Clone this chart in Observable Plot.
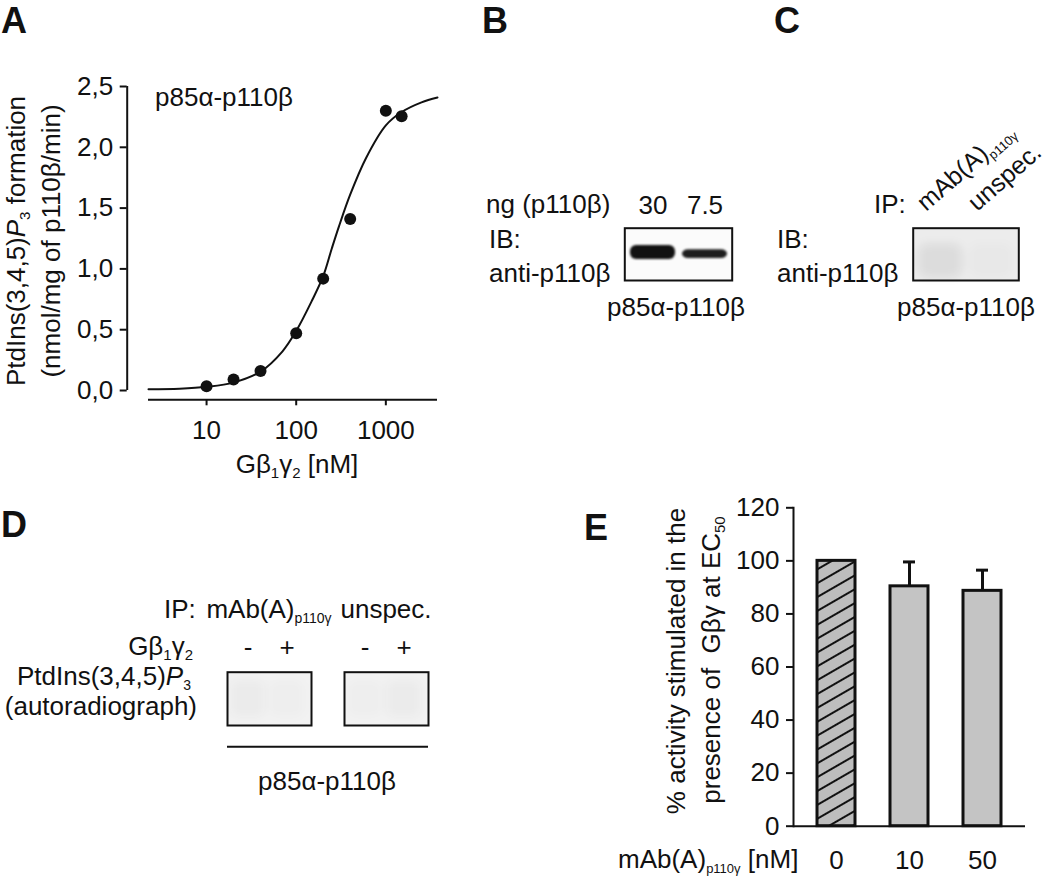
<!DOCTYPE html>
<html><head><meta charset="utf-8">
<script src="https://cdn.jsdelivr.net/npm/d3@7"></script>
<script src="https://cdn.jsdelivr.net/npm/@observablehq/plot@0.6"></script>
<style>
html,body{margin:0;padding:0;background:#fff;}
#fig{position:relative;width:1050px;height:876px;overflow:hidden;background:#fff;}
</style></head><body><div id="fig"></div>
<script>
// ---------- Panel A: dose-response ----------
const gbgConc  = [10, 20, 40, 100, 200, 400, 1000, 1500];          // nM
const pip3Rate = [0.035, 0.09, 0.16, 0.47, 0.92, 1.41, 2.30, 2.255]; // nmol/mg/min
const fitConc  = [2.25, 5, 10, 20, 40, 70, 100, 150, 200, 250, 300, 400, 600, 1000, 1500, 2500, 3770];
const fitRate  = [0.01, 0.015, 0.03, 0.065, 0.155, 0.32, 0.49, 0.74, 0.94, 1.17, 1.35, 1.61, 1.91, 2.18, 2.29, 2.37, 2.41];
const aYTicks = [0, 0.5, 1.0, 1.5, 2.0, 2.5];
const aXTicks = [10, 100, 1000];
const aXDomain = [2.25, 3770];
// ---------- Panel B: immunoblot ----------
const bLanes = ["30", "7.5"];           // ng p110beta
const bBandTop = [33, 41];              // % of blot height from top
const bBandBottom = [60, 58];
const bIntensity = [1, 0.95];
// ---------- Panel C: IP immunoblot ----------
const cLanes = ["mAb(A)_{p110γ}", "unspec."];
const cSmudgeTop = [30, 30];
const cSmudgeBottom = [95, 95];
const cIntensity = [0.07, 0.015];
// ---------- Panel D: autoradiograph ----------
const dIP = ["mAb(A)_{p110γ}", "unspec."];
const dGbg = ["-", "+"];
const dIntensity = [[0.03, 0.015], [0.015, 0.03]];
// ---------- Panel E: bar chart ----------
const eDose = ["0", "10", "50"];
const eActivity = [100, 90.4, 88.7];
const eError = [0, 9.2, 7.8];
const eTicks = [0, 20, 40, 60, 80, 100, 120];

const ink = "#111";
const FONT = '"Liberation Sans", Arial, Helvetica, sans-serif';
const FS = 26;
const fig = document.getElementById("fig");

function place(el, left, top) {
  el.style.position = "absolute";
  el.style.left = left + "px";
  el.style.top = top + "px";
  el.style.background = "transparent";
  el.style.overflow = "visible";
  el.style.fontFamily = FONT;
  el.style.fontSize = FS + "px";
  el.style.color = ink;
  el.style.maxWidth = "none";
  fig.appendChild(el);
  return el;
}

// ----- Panel A -----
const aPoints = gbgConc.map((c, i) => ({c, r: pip3Rate[i]}));
const aFit = fitConc.map((c, i) => ({c, r: fitRate[i]}));
const aPlot = Plot.plot({
  width: 460, height: 480,
  marginLeft: 148, marginRight: 23, marginTop: 86, marginBottom: 90,
  x: {type: "log", domain: aXDomain},
  y: {domain: [0, 2.5]},
  marks: [
    Plot.ruleX([aXDomain[0]], {dx: -21.3, stroke: ink, strokeWidth: 2}),
    Plot.axisY(aYTicks, {dx: -21.3, tickSize: 7, tickPadding: 7, strokeWidth: 2, fontSize: FS,
      tickFormat: d => d.toFixed(1).replace(".", ","), label: null}),
    Plot.ruleY([0], {dy: 9.3, stroke: ink, strokeWidth: 2}),
    Plot.axisX(aXTicks, {dy: 9.3, tickSize: 6, tickPadding: 15, strokeWidth: 2, fontSize: FS,
      tickFormat: d3.format("d"), label: null}),
    Plot.line(aFit, {x: "c", y: "r", curve: "catmull-rom", stroke: ink, strokeWidth: 2}),
    Plot.dot(aPoints, {x: "c", y: "r", r: 6, fill: ink, stroke: null})
  ]
});
place(aPlot, 0, 0);

// ----- Panel B -----
const bData = bLanes.map((lane, i) => ({lane, top: bBandTop[i], bottom: bBandBottom[i], intensity: bIntensity[i]}));
const bPlot = Plot.plot({
  width: 150, height: 110,
  marginLeft: 24.3, marginRight: 18.3, marginTop: 47.7, marginBottom: 10,
  x: {domain: bLanes, paddingInner: 0.135, paddingOuter: 0.1},
  y: {domain: [0, 100], reverse: true, axis: null},
  opacity: {type: "identity"},
  marks: [
    Plot.frame({fill: "#fbfbfb", stroke: "none"}),
    Plot.barY(bData, {x: "lane", y1: "top", y2: "bottom", fill: ink, fillOpacity: "intensity", rx: 6, imageFilter: "blur(1.3px)"}),
    Plot.frame({fill: "none", stroke: ink, strokeWidth: 2}),
    Plot.axisX({anchor: "top", tickSize: 0, tickPadding: 14.7, fontSize: FS, label: null})
  ]
});
place(bPlot, 600, 180);

// ----- Panel C -----
const cData = cLanes.map((lane, i) => ({lane, top: cSmudgeTop[i], bottom: cSmudgeBottom[i], intensity: cIntensity[i]}));
const cPlot = Plot.plot({
  width: 170, height: 110,
  marginLeft: 32.7, marginRight: 31.7, marginTop: 47.7, marginBottom: 10,
  x: {domain: cLanes, paddingInner: 0.135, paddingOuter: 0.1, axis: null},
  y: {domain: [0, 100], reverse: true, axis: null},
  opacity: {type: "identity"},
  marks: [
    Plot.frame({fill: "#ececec", stroke: "none"}),
    Plot.barY(cData, {x: "lane", y1: "top", y2: "bottom", fill: ink, fillOpacity: "intensity", rx: 10, imageFilter: "blur(4px)"}),
    Plot.frame({fill: "none", stroke: ink, strokeWidth: 2})
  ]
});
place(cPlot, 880, 180);

// ----- Panel D -----
const dData = [];
dIP.forEach((ip, i) => dGbg.forEach((g, j) => dData.push({ip, gbg: g, intensity: dIntensity[i][j]})));
const dPlot = Plot.plot({
  width: 250, height: 150,
  marginLeft: 26, marginRight: 21.4, marginTop: 71.7, marginBottom: 25,
  fx: {domain: dIP, paddingInner: 0.282, paddingOuter: 0, axis: null, label: null},
  x: {domain: dGbg, paddingInner: 0.1, paddingOuter: 0.11, align: 0.3},
  y: {domain: [0, 100], reverse: true, axis: null},
  opacity: {type: "identity"},
  marks: [
    Plot.frame({fill: "#f2f2f2", stroke: "none"}),
    Plot.barY(dData, {fx: "ip", x: "gbg", y1: 15, y2: 85, fill: ink, fillOpacity: "intensity", rx: 8, imageFilter: "blur(5px)"}),
    Plot.frame({fill: "none", stroke: ink, strokeWidth: 2}),
    Plot.axisX({anchor: "top", tickSize: 0, tickPadding: 16.7, fontSize: FS, label: null})
  ]
});
place(dPlot, 200, 600);

// ----- Panel E -----
const eData = eDose.map((dose, i) => ({dose, act: eActivity[i], err: eError[i], top: eActivity[i] + eError[i]}));
const eErr = eData.filter(d => d.err > 0);
const ePlot = Plot.plot({
  width: 450, height: 396,
  marginLeft: 193, marginRight: 25, marginTop: 27.3, marginBottom: 50.3,
  x: {domain: eDose, paddingInner: 0.48, paddingOuter: 0.325},
  y: {domain: [0, 120]},
  marks: [
    Plot.frame({anchor: "left", stroke: ink, strokeWidth: 2}),
    Plot.ruleY([0], {stroke: ink, strokeWidth: 2}),
    Plot.axisY(eTicks, {tickSize: 7, tickPadding: 7, strokeWidth: 2, fontSize: FS, label: null}),
    Plot.axisX({tickSize: 0, tickPadding: 24, fontSize: FS, label: null}),
    Plot.ruleX(eErr, {x: "dose", y1: "act", y2: "top", stroke: ink, strokeWidth: 3}),
    Plot.tickY(eErr, {x: "dose", y: "top", insetLeft: 13, insetRight: 13, stroke: ink, strokeWidth: 3}),
    Plot.barY(eData, {filter: d => d.err > 0, x: "dose", y: "act", fill: "#c4c4c4", stroke: ink, strokeWidth: 3}),
    Plot.barY(eData, {filter: d => d.err === 0, x: "dose", y: "act", fill: "url(#hatch)", stroke: ink, strokeWidth: 3})
  ]
});
d3.select(ePlot).insert("defs", ":first-child").html(
  `<pattern id="hatch" patternUnits="userSpaceOnUse" width="12" height="12" patternTransform="rotate(-30)">
     <rect width="12" height="12" fill="#bdbdbd"/>
     <line x1="0" y1="6" x2="12" y2="6" stroke="${ink}" stroke-width="2"/>
   </pattern>`);
place(ePlot, 600, 480);

// ---------- Overlay text ----------
const ov = d3.create("svg").attr("width", 1050).attr("height", 876)
  .style("font-family", FONT).style("pointer-events", "none");
place(ov.node(), 0, 0);

function rich(markup, {x = 0, y = 0, size = FS, anchor = "start", weight = null, rotate = 0, subSize = null} = {}) {
  const t = ov.append("text")
    .attr("font-size", size).attr("text-anchor", anchor).attr("fill", ink)
    .style("white-space", "pre")
    .attr("transform", `translate(${x},${y})` + (rotate ? ` rotate(${rotate})` : ""));
  if (weight) t.attr("font-weight", weight);
  const tokens = markup.split(/(_\{[^}]*\}|\*[^*]*\*)/).filter(s => s.length);
  const sub = subSize || Math.round(size * 0.58);
  const shift = size * 0.2;
  let cur = 0;
  for (const tok of tokens) {
    let text = tok, isSub = false, isIt = false;
    if (tok.startsWith("_{")) { text = tok.slice(2, -1); isSub = true; }
    else if (tok.length > 1 && tok.startsWith("*") && tok.endsWith("*")) { text = tok.slice(1, -1); isIt = true; }
    const ts = t.append("tspan").text(text);
    const target = isSub ? shift : 0;
    if (target !== cur) { ts.attr("dy", target - cur); cur = target; }
    if (isSub) ts.attr("font-size", sub);
    if (isIt) ts.attr("font-style", "italic");
  }
  return t;
}

// panel letters
const L = {size: 36, weight: "bold"};
rich("A", {x: 1, y: 33, ...L});
rich("B", {x: 482, y: 33, ...L});
rich("C", {x: 774, y: 33, ...L});
rich("D", {x: 1, y: 537, ...L});
rich("E", {x: 584, y: 540, ...L});

// Panel A texts
rich("p85α-p110β", {x: 155, y: 106});
rich("PtdIns(3,4,5)*P*_{3} formation", {x: 25, y: 241, anchor: "middle", rotate: -90, subSize: 15});
rich("(nmol/mg of p110β/min)", {x: 60, y: 241, anchor: "middle", rotate: -90});
rich("Gβ_{1}γ_{2} [nM]", {x: 297, y: 473, anchor: "middle", subSize: 15});

// Panel B texts
rich("ng (p110β)", {x: 486, y: 213});
rich("IB:", {x: 489, y: 248});
rich("anti-p110β", {x: 489, y: 282});
rich("p85α-p110β", {x: 607, y: 316});

// Panel C texts
rich("IP:", {x: 874, y: 213});
rich("IB:", {x: 777, y: 248});
rich("anti-p110β", {x: 777, y: 282});
rich("p85α-p110β", {x: 897, y: 316});
{
  const sx = cPlot.scale("x");
  cLanes.forEach(l => {
    const cx = 880 + sx.apply(l) + sx.bandwidth / 2;
    rich(l, {x: cx - 14, y: 212, rotate: -41, size: 25, subSize: 13});
  });
}

// Panel D texts
rich("IP:", {x: 164, y: 618});
{
  const sfx = dPlot.scale("fx");
  dIP.forEach(l => {
    const cx = 200 + sfx.apply(l) + sfx.bandwidth / 2;
    rich(l, {x: cx, y: 618, anchor: "middle", subSize: 14});
  });
}
rich("Gβ_{1}γ_{2}", {x: 193, y: 655, anchor: "end", subSize: 15});
rich("PtdIns(3,4,5)*P*_{3}", {x: 191, y: 685, anchor: "end", subSize: 14});
rich("(autoradiograph)", {x: 197, y: 715, anchor: "end"});
ov.append("line").attr("x1", 227).attr("x2", 428).attr("y1", 746.7).attr("y2", 746.7)
  .attr("stroke", ink).attr("stroke-width", 2);
rich("p85α-p110β", {x: 327, y: 790, anchor: "middle"});

// Panel E texts
rich("% activity stimulated in the", {x: 685, y: 661, anchor: "middle", rotate: -90});
rich("presence of  Gβγ at EC_{50}", {x: 720, y: 660, anchor: "middle", rotate: -90, subSize: 15});
rich("mAb(A)_{p110γ} [nM]", {x: 618, y: 868, subSize: 13});
</script></body></html>
